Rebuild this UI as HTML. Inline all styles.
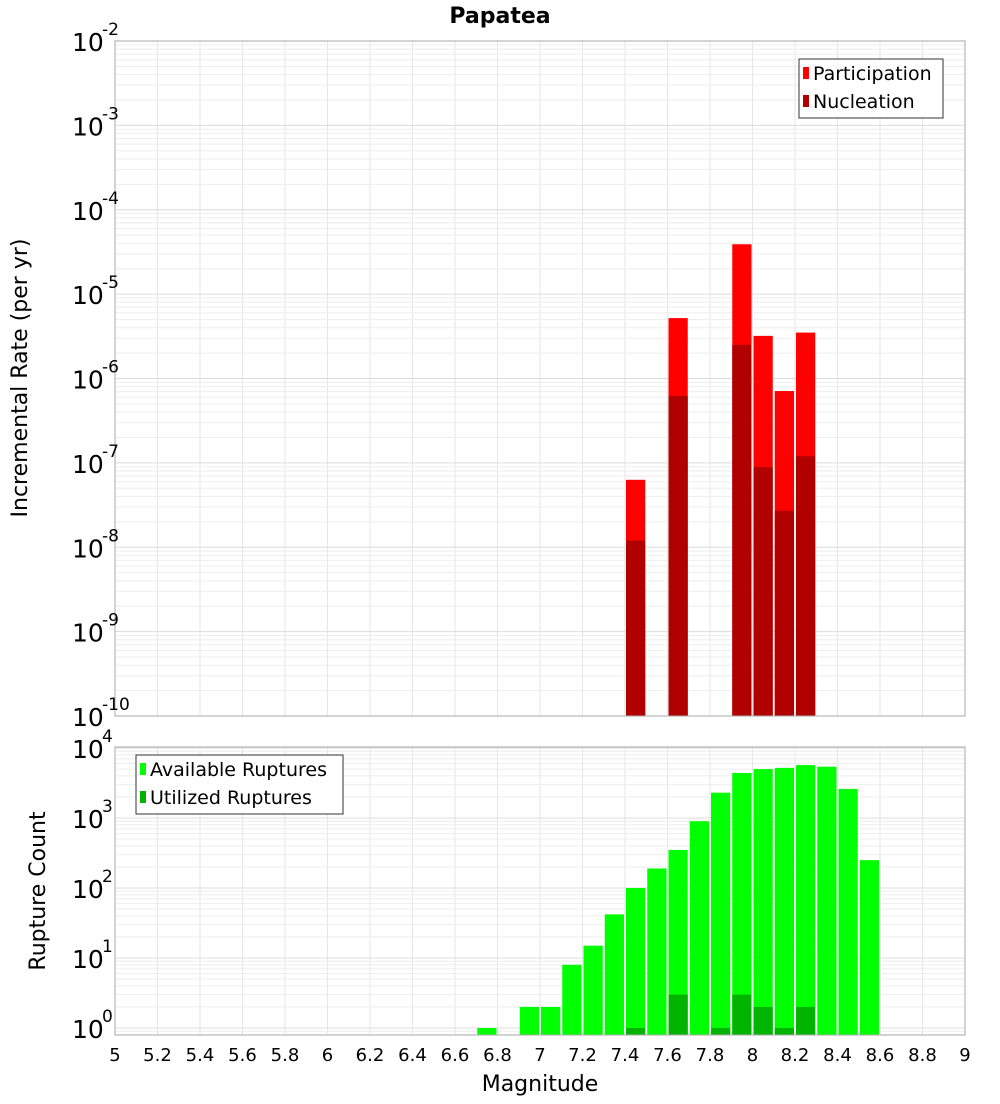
<!DOCTYPE html>
<html><head><meta charset="utf-8"><style>
body{margin:0;background:#fff;font-family:"DejaVu Sans","Liberation Sans",sans-serif}
svg text{font-family:"DejaVu Sans","Liberation Sans",sans-serif}
</style></head><body>
<svg id="c" width="1000" height="1100" xmlns="http://www.w3.org/2000/svg"></svg>
<script>
const binCenters=[6.75,6.95,7.05,7.15,7.25,7.35,7.45,7.55,7.65,7.75,7.85,7.95,8.05,8.15,8.25,8.35,8.45,8.55];
const availableCounts=[1,2,2,8,15,42,100,190,350,900,2300,4400,5000,5200,5700,5400,2600,250];
const utilizedBins=[7.45,7.65,7.85,7.95,8.05,8.15,8.25];
const utilizedCounts=[1,3,1,3,2,1,2];
const rateBins=[7.45,7.65,7.95,8.05,8.15,8.25];
const participationRates=[6.3e-8,5.2e-6,3.9e-5,3.2e-6,7.1e-7,3.5e-6];
const nucleationRates=[1.2e-8,6.2e-7,2.5e-6,8.9e-8,2.7e-8,1.2e-7];
const xTicks=[5,5.2,5.4,5.6,5.8,6,6.2,6.4,6.6,6.8,7,7.2,7.4,7.6,7.8,8,8.2,8.4,8.6,8.8,9];
const topExps=[-10,-9,-8,-7,-6,-5,-4,-3,-2];
const botExps=[0,1,2,3,4];

const S=document.getElementById('c'),NS='http://www.w3.org/2000/svg';
function el(t,a,p){const e=document.createElementNS(NS,t);for(const k in a)e.setAttribute(k,a[k]);(p||S).appendChild(e);return e;}
const L=115,R=965,T1=41,B1=716,T2=747,B2=1035;
const X=v=>L+(v-5)*(R-L)/4;
const Y1=v=>B1-(Math.log10(v)+10)*(B1-T1)/8;
const Y2=v=>1028-Math.log10(v)*70;

let t=el('text',{x:500,y:23,'text-anchor':'middle','font-size':22,'font-weight':'bold'});t.textContent='Papatea';


function panel(top,bot,yfun,lo,hi,name){
  const g=el('g',{});
  for(const v of xTicks){el('line',{x1:X(v),x2:X(v),y1:top,y2:bot,stroke:'#e6e6e6'},g);}
  for(let e=lo;e<=hi;e++)for(let m=1;m<10;m++){const y=yfun(m*Math.pow(10,e));if(y>top&&y<bot)el('line',{x1:L,x2:R,y1:y,y2:y,stroke:m==1?'#dcdcdc':'#eeeeee'},g);}
}
panel(T1,B1,Y1,-10,-2,'top');
panel(T2,B2,Y2,-1,4,'bottom');

const bw=(R-L)/4*0.1;
function bar(c,v,yf,base,col,name){const y=yf(v);const r=el('rect',{x:X(c)-bw/2+1,y:y,width:bw-2,height:base-y,fill:col});
  }
participationRates.forEach((v,i)=>bar(rateBins[i],v,Y1,B1,'#ff0000','participation-bar'));
nucleationRates.forEach((v,i)=>bar(rateBins[i],v,Y1,B1,'#b00000','nucleation-bar'));
availableCounts.forEach((v,i)=>bar(binCenters[i],v,Y2,B2,'#00ff00','available-bar'));
utilizedCounts.forEach((v,i)=>bar(utilizedBins[i],v,Y2,B2,'#00b400','utilized-bar'));

el('rect',{x:L,y:T1,width:R-L,height:B1-T1,fill:'none',stroke:'#aaa'});
el('rect',{x:L,y:T2,width:R-L,height:B2-T2,fill:'none',stroke:'#aaa'});

function ylab(e,y,name){const g=el('g',{});
  const a=el('text',{x:72,y:y+10,'font-size':25},g);a.textContent='10';
  const b=el('text',{x:102,y:y-6,'font-size':17},g);b.textContent=String(e);}
topExps.forEach(e=>ylab(e,Y1(Math.pow(10,e)),'top-y-tick'));
botExps.forEach(e=>ylab(e,Y2(Math.pow(10,e)),'bottom-y-tick'));
xTicks.forEach(v=>{const x=el('text',{x:X(v),y:1061,'text-anchor':'middle','font-size':18});x.textContent=String(v);
  });
let a=el('text',{x:540,y:1091,'text-anchor':'middle','font-size':22});a.textContent='Magnitude';
a=el('text',{x:27,y:378,'text-anchor':'middle','font-size':22,transform:'rotate(-90 27 378)'});a.textContent='Incremental Rate (per yr)';
a=el('text',{x:45,y:891,'text-anchor':'middle','font-size':22,transform:'rotate(-90 45 891)'});a.textContent='Rupture Count';

function legend(x,y,w,items,name){const g=el('g',{});
  el('rect',{x:x,y:y,width:w,height:59,fill:'#fff',stroke:'#333'},g);
  items.forEach((it,i)=>{el('rect',{x:x+4,y:y+8+i*28,width:6,height:12,fill:it[1]},g);
    const tt=el('text',{x:x+14,y:y+21+i*28,'font-size':19},g);tt.textContent=it[0];});}
legend(799,59,144,[['Participation','#ff0000'],['Nucleation','#b00000']],'top-legend');
legend(136,755,207,[['Available Ruptures','#00ff00'],['Utilized Ruptures','#00b400']],'bottom-legend');
</script>
</body></html>
